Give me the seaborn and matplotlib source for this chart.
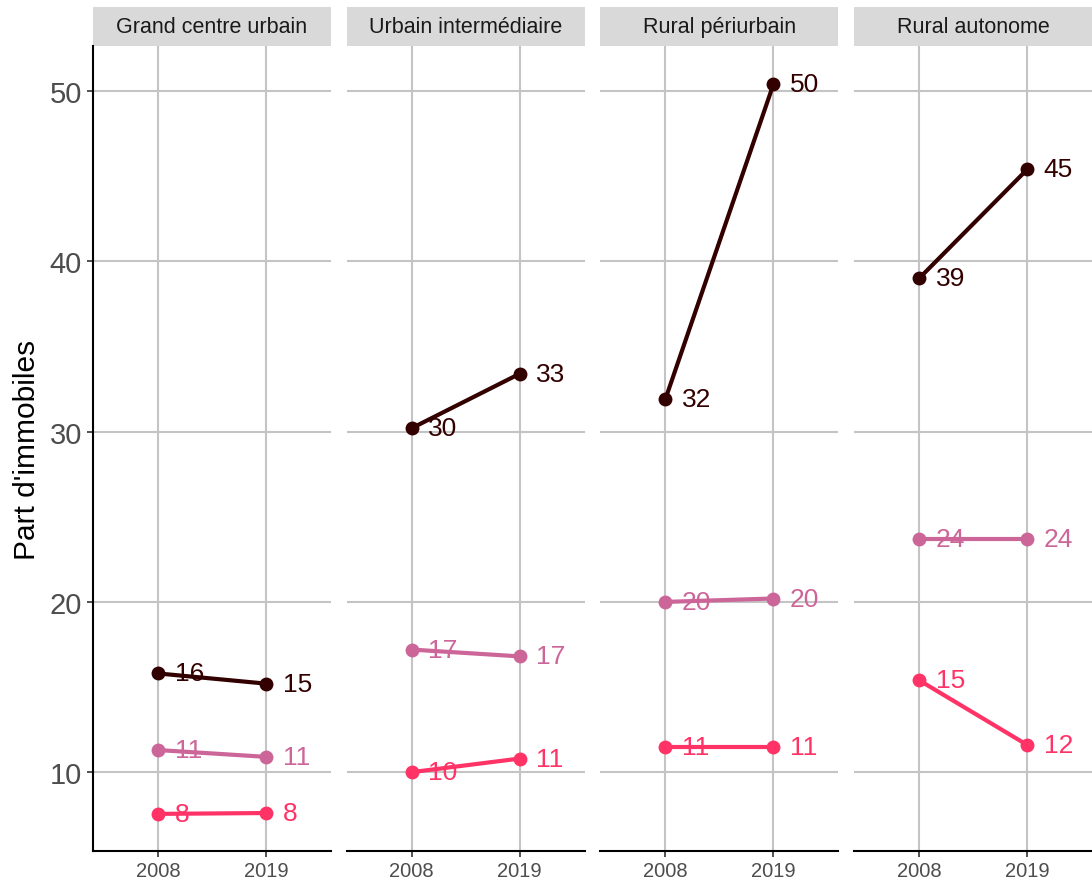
import numpy as np
import pandas as pd
import matplotlib
matplotlib.use("Agg")
import matplotlib.pyplot as plt
from matplotlib.patches import Rectangle
import seaborn as sns

# data
facets = ["Grand centre urbain", "Urbain intermédiaire", "Rural périurbain", "Rural autonome"]
years = ["2008", "2019"]
groups = ["Groupe 1", "Groupe 2", "Groupe 3"]
g1_2008 = [15.8, 30.2, 31.9, 39.0]
g1_2019 = [15.2, 33.4, 50.4, 45.4]
g2_2008 = [11.3, 17.2, 20.0, 23.7]
g2_2019 = [10.9, 16.8, 20.2, 23.7]
g3_2008 = [7.55, 10.0, 11.45, 15.4]
g3_2019 = [7.6, 10.8, 11.45, 11.6]
colors = ["#330000", "#CC6699", "#FF3366"]

rows = []
for g, v08, v19 in zip(groups, [g1_2008, g2_2008, g3_2008], [g1_2019, g2_2019, g3_2019]):
    for i, f in enumerate(facets):
        rows.append((f, g, years[0], v08[i]))
        rows.append((f, g, years[1], v19[i]))
df = pd.DataFrame(rows, columns=["zone", "groupe", "annee", "part"])

sns.set_theme(style="white")
plt.rcParams["font.family"] = ["Liberation Sans", "DejaVu Sans"]

fig = plt.figure(figsize=(10.92, 8.87), dpi=100)
axes = fig.subplots(1, 4, sharey=True)
fig.subplots_adjust(left=93 / 1092, right=1.0, bottom=1 - 852 / 887, top=1 - 47 / 887, wspace=16 / 238)

pal = dict(zip(groups, colors))
for ax, f in zip(axes, facets):
    sub = df[df["zone"] == f]
    ax.grid(True, color="#C4C4C4", lw=1.5, zorder=0)
    ax.set_axisbelow(True)
    sns.lineplot(data=sub, x="annee", y="part", hue="groupe", palette=pal, marker="o",
                 markersize=10, markeredgewidth=0, linewidth=3, legend=False, ax=ax, zorder=3)
    for _, r in sub.iterrows():
        ax.annotate(f"{r['part']:.0f}", (years.index(r["annee"]), r["part"]), xytext=(12, 0),
                    textcoords="offset points", ha="left", va="center", fontsize=19,
                    color=pal[r["groupe"]], zorder=4)
    ax.set_xlim(-0.6, 1.6)
    ax.set_ylim(5.37, 52.65)
    ax.set_yticks([10, 20, 30, 40, 50])
    ax.set_xlabel("")
    ax.set_ylabel("")
    for s in ["top", "right", "left"]:
        ax.spines[s].set_visible(False)
    ax.spines["bottom"].set_color("black")
    ax.spines["bottom"].set_linewidth(1.5)
    ax.tick_params(axis="x", bottom=True, length=4, width=1.2, color="#333333",
                   labelsize=14.5, labelcolor="#4D4D4D", pad=3)
    ax.tick_params(axis="y", left=False)
    # facet strip
    h = 39 / 805
    ax.add_patch(Rectangle((0, 1), 1, h, transform=ax.transAxes, facecolor="#D9D9D9",
                           edgecolor="none", clip_on=False))
    ax.text(0.5, 1 + h / 2, f, transform=ax.transAxes, ha="center", va="center",
            fontsize=15.5, color="#1A1A1A")

ax0 = axes[0]
ax0.spines["left"].set_visible(True)
ax0.spines["left"].set_color("black")
ax0.spines["left"].set_linewidth(1.5)
ax0.tick_params(axis="y", left=True, length=4, width=1.2, color="#333333",
                labelsize=21, labelcolor="#4D4D4D", pad=4)
ax0.set_ylabel("Part d'immobiles", fontsize=21.5, color="black", labelpad=6)

fig.savefig("out.png", dpi=100)
